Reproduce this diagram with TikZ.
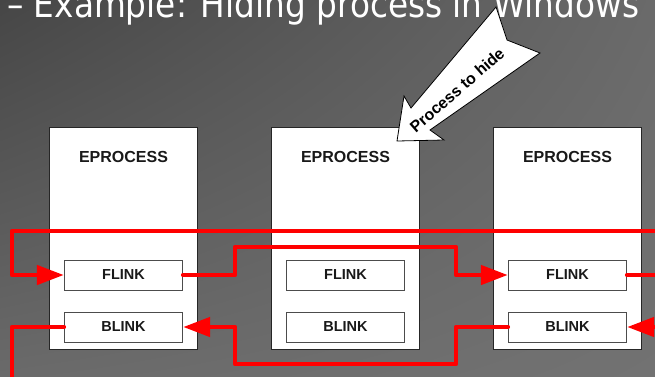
\documentclass[tikz,border=0pt]{standalone}
\usepackage{fontspec}
\setmainfont{Liberation Sans}
\newfontfamily\titlefont{DejaVu Sans}
\usetikzlibrary{arrows.meta,shadings}

\definecolor{bgTL}{HTML}{464646}
\definecolor{bgTR}{HTML}{6A6A6A}
\definecolor{bgBL}{HTML}{6A6A6A}
\definecolor{bgBR}{HTML}{727272}
\definecolor{linkred}{HTML}{FF0000}

\begin{document}
\begin{tikzpicture}[x=1pt, y=-1pt,
  procbox/.style={draw=black!85, line width=0.8pt, fill=white,
    minimum width=148.5pt, minimum height=222pt, inner sep=0pt},
  procname/.style={font=\fontsize{16}{16}\selectfont\bfseries, text=black!90},
  linkbox/.style={draw=black!70, line width=0.8pt, fill=white,
    minimum width=118.5pt, minimum height=30pt, inner sep=0pt,
    font=\fontsize{14.5}{14.5}\selectfont\bfseries, text=black!90},
  link/.style={draw=linkred, line width=4.5pt, line join=round, line cap=round},
  linkarrow/.style={link, -{Triangle[length=27pt, width=19pt]}},
  hidearrow/.style={draw=black, line width=0.8pt, fill=white, line join=miter},
]
  % page and background
  \useasboundingbox (0,0) rectangle (655,376);
  \begin{scope}[y=1pt]
    \shade[upper left=bgTL, upper right=bgTR, lower left=bgBL, lower right=bgBR]
      (0,-376) rectangle (655,0);
  \end{scope}

  % slide heading (narrowed to the width of the slide font)
  \node[anchor=base west, inner sep=0pt, text=white,
        font=\titlefont\fontsize{37}{37}\selectfont] (title) at (7,17)
    {\scalebox{0.885}[1]{– Example: Hiding process in Windows}};

  % process blocks
  \foreach \i/\cx in {1/123.5, 2/345.5, 3/567.5} {
    \node[procbox] (p\i) at (\cx,238) {};
    \node[procname] (n\i) at (\cx,157) {EPROCESS};
    \node[linkbox] (f\i) at (\cx,275) {FLINK};
    \node[linkbox] (b\i) at (\cx,327) {BLINK};
  }

  % free ends of the list beyond the picture
  \coordinate (inA)  at (662,231);
  \coordinate (outC) at (662,275);
  \coordinate (inD)  at (662,327);
  \coordinate (outF) at (12,382);

  % forward links
  \draw[linkarrow] (inA) -- (12,231) |- (f1.west);
  \draw[linkarrow] (f1.east) -- (235,275) -- (235,247) -- (456,247) -- (456,275) -- (f3.west);
  \draw[link] (f3.east) -- (outC);

  % backward links
  \draw[linkarrow] (inD) -- (b3.east);
  \draw[linkarrow] (b3.west) -- (456,327) -- (456,364) -- (235,364) -- (235,327) -- (b1.east);
  \draw[link] (b1.west) -- (12,327) -- (outF);

  % block arrow pointing at the hidden process
  \draw[hidearrow] (397,141) -- (404,96) -- (411,108) -- (496,7) -- (507,40)
    -- (540,53) -- (430,130) -- (444,140) -- cycle;
  \node[rotate=41, inner sep=0pt, font=\fontsize{16}{16}\selectfont\bfseries, text=black]
    (hidelabel) at (457,90) {Process to hide};
\end{tikzpicture}
\end{document}
